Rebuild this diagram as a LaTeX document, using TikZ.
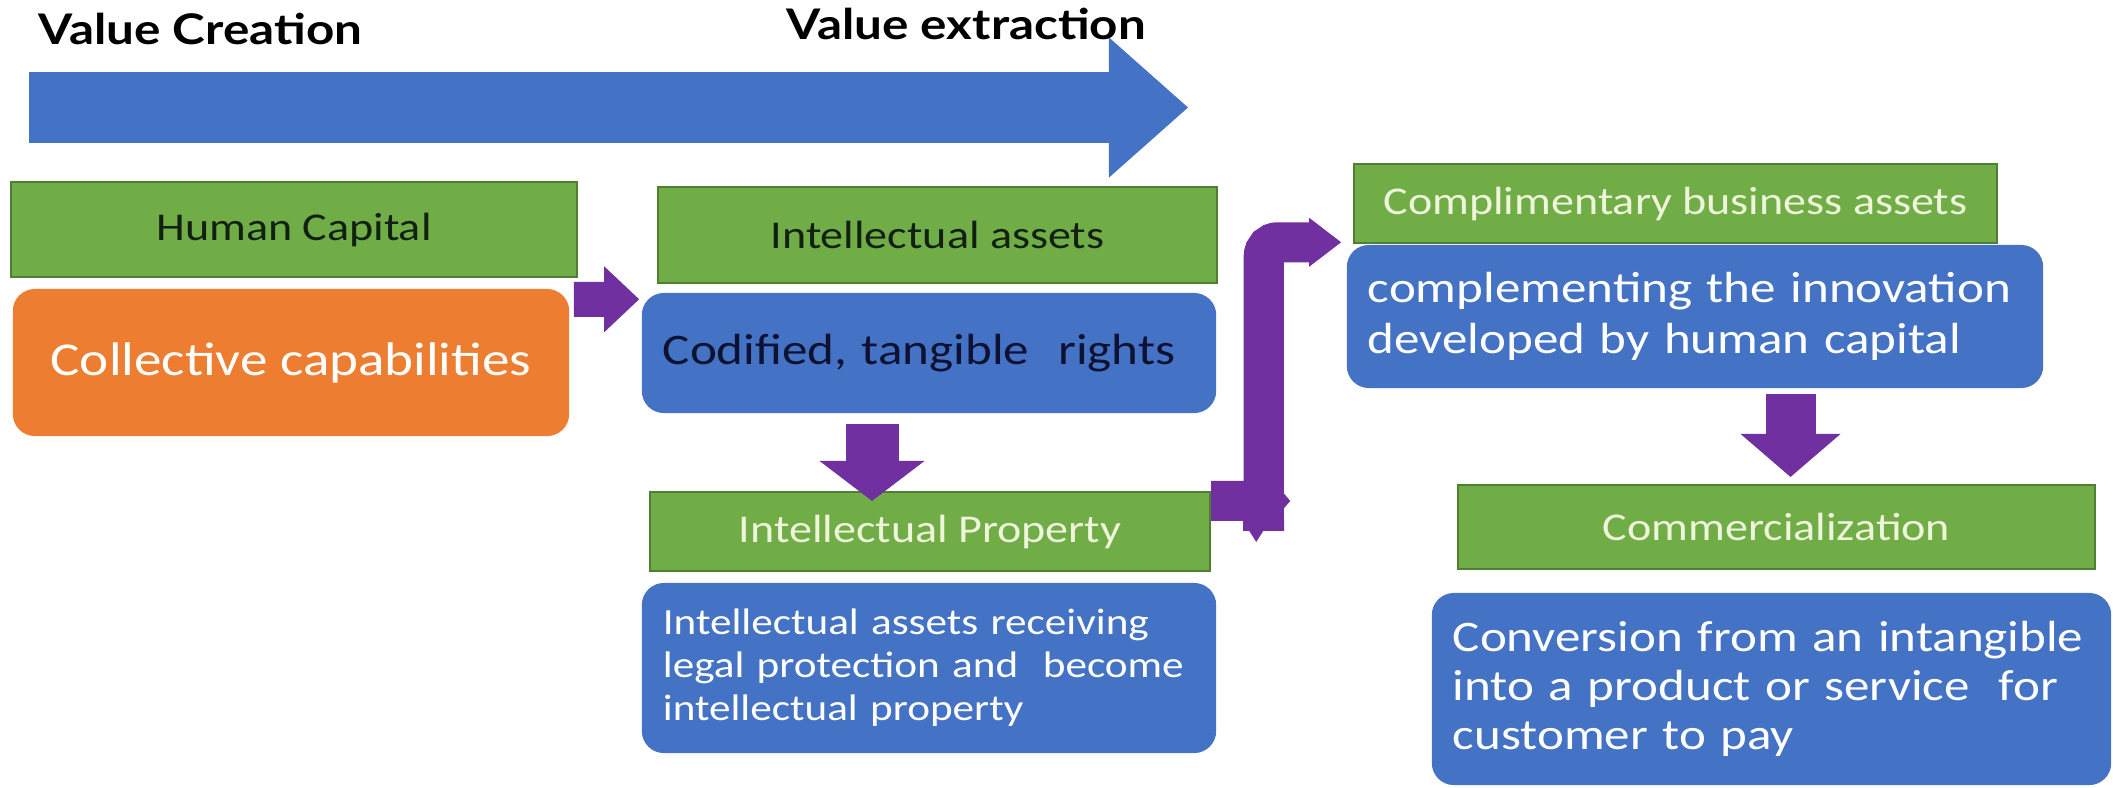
\documentclass[tikz,border=0pt]{standalone}
\usepackage{fontspec}
\setmainfont{Carlito}[FakeStretch=1.17]
\newfontfamily\headfont{Lato}[FakeStretch=1.17]
\usepackage{tikz}
\usetikzlibrary{arrows.meta}
\usetikzlibrary{calc}

\definecolor{boxgreen}{HTML}{70AD47}
\definecolor{greenline}{HTML}{507E32}
\definecolor{boxblue}{HTML}{4472C4}
\definecolor{boxorange}{HTML}{ED7D31}
\definecolor{flowpurple}{HTML}{7030A0}
\definecolor{darktext}{HTML}{122012}
\definecolor{navytext}{HTML}{0D1233}
\definecolor{lighttext}{HTML}{EEF5DA}

\tikzset{
    title/.style = {inner sep = 0pt, font = \headfont\bfseries\fontsize{12}{14}\selectfont},
    stage/.style = {draw = greenline, line width = 0.6pt, fill = boxgreen, inner sep = 0pt,
                    font = \fontsize{11.2}{13}\selectfont},
    card/.style = {fill = boxblue, rounded corners = 0.22cm, inner sep = 0pt, inner xsep = 0.21cm,
                   align = left, text = white},
    capbox/.style = {fill = boxorange, rounded corners = 0.22cm, inner sep = 0pt, text = white,
                     font = \fontsize{13.4}{16}\selectfont},
    banner/.style = {draw = boxblue, line width = 0.71cm,
                     -{Triangle[width = 1.40cm, length = 0.79cm, line width = 0pt]}},
    flow/.style = {draw = flowpurple, line width = #1}
}

\begin{document}
\begin{tikzpicture}[x = 0.01cm, y = -0.01cm]
    \useasboundingbox (0,0) rectangle (2113,787);

    % Draw the value banner:
    \coordinate (vstart) at (29,107.5);
    \coordinate (vend) at (1188,107.5);
    \draw [banner] (vstart) -- (vend);
    \node [title, anchor = base west] (vc) at (38,44) {Value Creation};
    \node [title, anchor = base west] (ve) at (786,39) {Value extraction};

    % Draw the stages:
    \node [stage, minimum width = 5.66cm, minimum height = 0.95cm, text = darktext] (hc) at (294,229.5) {Human Capital};
    \node [capbox, minimum width = 5.56cm, minimum height = 1.47cm] (cc) at (291,362.5) {Collective capabilities};
    \node [stage, minimum width = 5.59cm, minimum height = 0.96cm, text = darktext] (ia) at (937.5,235) {Intellectual assets};
    \node [card, text width = 5.32cm, minimum height = 1.20cm, text = navytext,
           font = \fontsize{12.4}{15}\selectfont] (cr) at (929,353) {Codified, tangible\ \ rights};
    \node [stage, minimum width = 5.60cm, minimum height = 0.79cm, text = lighttext] (ip) at (930,531.5) {Intellectual Property};
    \node [card, text width = 5.32cm, minimum height = 1.70cm,
           font = \fontsize{10.5}{12.2}\selectfont] (ipd) at (929,668)
        {Intellectual assets receiving\\ legal protection and\ \ become\\ intellectual property};
    \node [stage, minimum width = 6.43cm, minimum height = 0.79cm, text = lighttext] (cba) at (1675.5,203.5) {Complimentary business assets};
    \node [card, text width = 6.54cm, minimum height = 1.43cm,
           font = \fontsize{12.4}{14.5}\selectfont] (cin) at (1695,316.5)
        {complementing the innovation\\ developed by human capital};
    \node [stage, minimum width = 6.37cm, minimum height = 0.84cm, text = lighttext] (com) at (1776.5,527) {Commercialization};
    \node [card, text width = 6.37cm, minimum height = 1.92cm,
           font = \fontsize{12.4}{13.9}\selectfont] (cnv) at (1771.5,689)
        {Conversion from an intangible\\ into a product or service\ \ for\\ customer to pay};

    % Draw the flow arrows:
    \draw [flow = 0.35cm, -{Triangle[width = 0.66cm, length = 0.35cm, line width = 0pt]}]
        ($(cc.north east)+(4,11)$) -- ($(cr.north west)+(-2,7)$);
    \draw [flow = 0.53cm, -{Triangle[width = 1.05cm, length = 0.40cm, line width = 0pt]}]
        ($(cr.south)+(-57,10)$) -- ($(ip.north)+(-58,10)$);
    \draw [flow = 0.40cm, -{Triangle[width = 0.49cm, length = 0.32cm, line width = 0pt]}]
        ($(ip.north east)+(0,10)$) -- ++(52.5,0) [rounded corners = 0.14cm] |- ($(cin.north west)+(-5,-2)$);
    \fill [flowpurple] ($(ip.north east)+(32,30)$) -- ++(41,0) -- ++(0,10) -- ++(-21,0)
        -- ++(-7,11) -- ++(-7,-11) -- ++(-6,0) -- cycle;
    \fill [flowpurple] ($(ip.north east)+(73,3)$) -- ++(6,7) -- ++(-6,7) -- cycle;
    \draw [flow = 0.50cm, -{Triangle[width = 1.00cm, length = 0.43cm, line width = 0pt]}]
        ($(cin.south)+(95.5,5)$) -- ($(com.north)+(14,-7)$);
\end{tikzpicture}
\end{document}
